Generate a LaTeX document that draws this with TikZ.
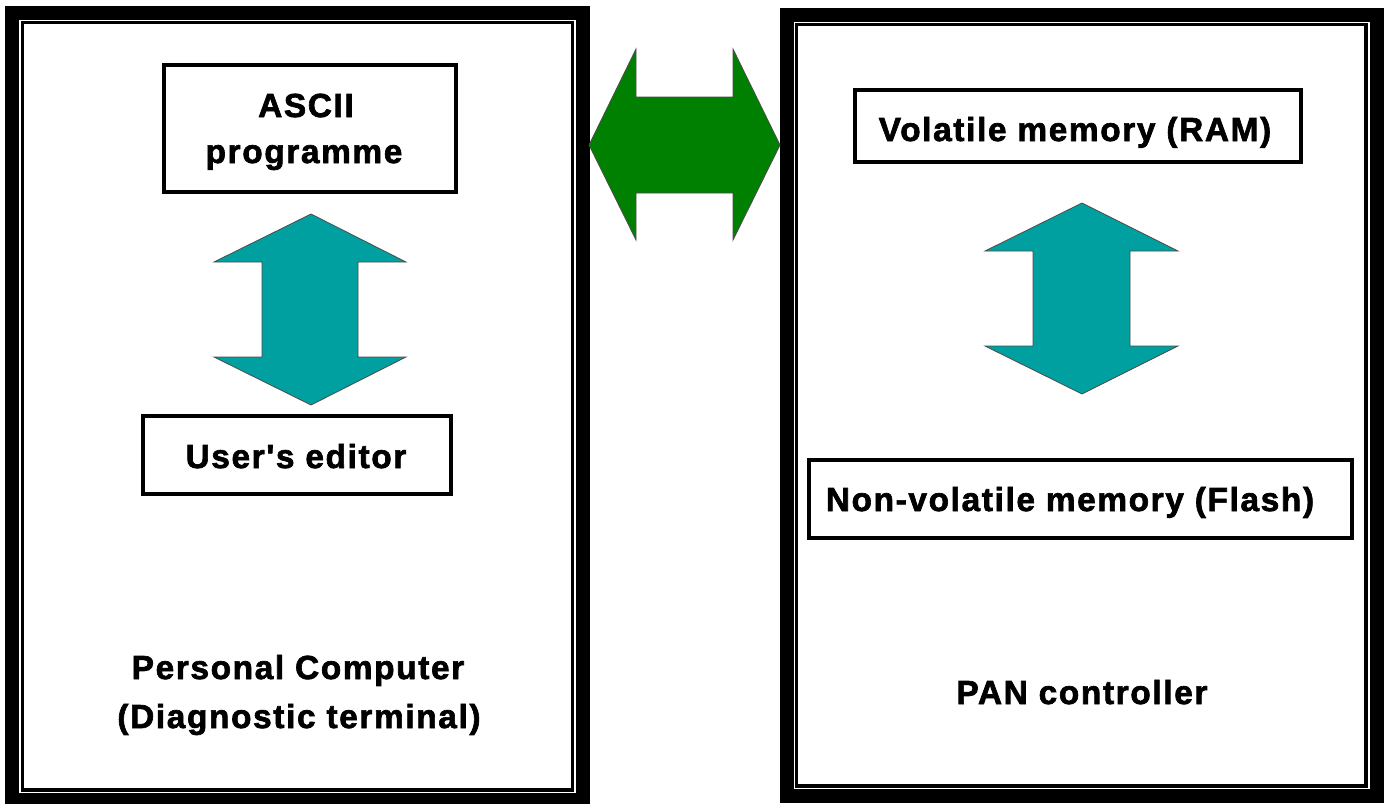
\documentclass[tikz,border=0pt]{standalone}
\usepackage{fontspec}
\newfontfamily\lblfont{Liberation Sans Bold}[LetterSpace=5,FakeBold=2]
\definecolor{pcgreen}{RGB}{0,128,0}
\definecolor{pcteal}{RGB}{0,160,160}
\begin{document}
\begin{tikzpicture}[x=0.75pt,y=-0.75pt,
  lbl/.style={font=\lblfont\fontsize{25}{34}\selectfont, inner sep=0pt, anchor=base, align=center},
  boxline/.style={draw=black, line width=3pt},
  thickframe/.style={draw=black, line width=10.5pt},
  thinframe/.style={draw=black, line width=2.4pt},
  blockarrow/.style={draw=black!70, line width=0.6pt, line join=miter}]
\useasboundingbox (0,0) rectangle (1388,803);
% frames
\draw[thickframe] (12,13) rectangle (582.5,800);
\draw[thinframe] (22.5,22.5) rectangle (572.5,790);
\draw[thickframe] (787,14.5) rectangle (1376.5,796);
\draw[thinframe] (796.5,24.5) rectangle (1366,786);
% boxes
\draw[boxline] (164,65) rectangle (455.5,192);
\draw[boxline] (142.5,415.5) rectangle (450.5,493.5);
\draw[boxline] (855,89.5) rectangle (1301,161.5);
\draw[boxline] (809,460) rectangle (1352,537.5);
% texts
\node[lbl] (ascii) at (306,117) {ASCII};
\node[lbl] (prog) at (304,163) {programme};
\node[lbl] (editor) at (296,468) {User's editor};
\node[lbl] (ram) at (1075,141) {Volatile memory (RAM)};
\node[lbl] (flash) at (1070,511) {Non-volatile memory (Flash)};
\node[lbl] (pc1) at (298,679) {Personal Computer};
\node[lbl] (pc2) at (299,728) {(Diagnostic terminal)};
\node[lbl] (pan) at (1082,704) {PAN controller};
% block arrows
\filldraw[blockarrow, fill=pcgreen] (589,145) -- (636,49) -- (636,97) -- (733,97) -- (733,49) -- (780,145) -- (733,240) -- (733,193) -- (636,193) -- (636,240) -- cycle;
\filldraw[blockarrow, fill=pcteal] (311,214) -- (406,262) -- (358,262) -- (358,357) -- (406,357) -- (311,405) -- (214,357) -- (262,357) -- (262,262) -- (214,262) -- cycle;
\filldraw[blockarrow, fill=pcteal] (1082,203) -- (1178,251) -- (1130,251) -- (1130,346) -- (1178,346) -- (1082,394) -- (985,346) -- (1033,346) -- (1033,251) -- (985,251) -- cycle;
\end{tikzpicture}
\end{document}
